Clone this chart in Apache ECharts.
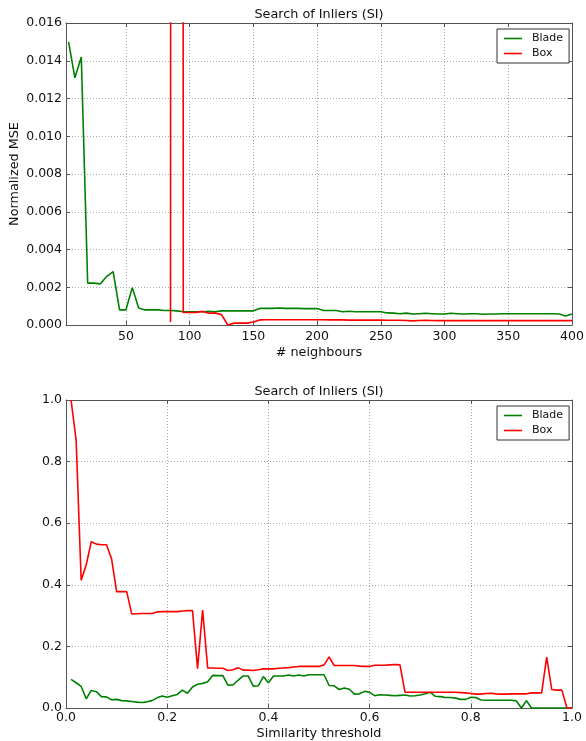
<!DOCTYPE html>
<html>
<head>
<meta charset="utf-8">
<script src="https://cdn.jsdelivr.net/npm/echarts@6/dist/echarts.min.js"></script>
<style>
html,body{margin:0;padding:0;background:#fff;}
#chart{width:586px;height:741px;}
</style>
</head>
<body>
<div id="chart"></div>
<script>
// ---------- Top chart data ----------
const neighbours = [5,10,15,20,25,30,35,40,45,50,55,60,65,70,75,80,85,90,95,100,
  105,110,115,120,125,130,135,140,145,150,155,160,165,170,175,180,185,190,195,200,
  205,210,215,220,225,230,235,240,245,250,255,260,265,270,275,280,285,290,295,300,
  305,310,315,320,325,330,335,340,345,350,355,360,365,370,375,380,385,390,395,400];
const bladeMSE = [0.0150,0.0131,0.0142,0.00222,0.00222,0.00218,0.00258,0.00283,0.00080,0.00080,
  0.00198,0.00090,0.00080,0.00080,0.00080,0.00077,0.00077,0.00075,0.00070,0.00070,
  0.00070,0.00070,0.00072,0.00070,0.00075,0.00075,0.00075,0.00075,0.00075,0.00075,
  0.00088,0.00088,0.00088,0.00090,0.00088,0.00088,0.00088,0.00087,0.00087,0.00087,
  0.00077,0.00077,0.00077,0.00070,0.00073,0.00070,0.00070,0.00070,0.00070,0.00070,
  0.00064,0.00063,0.00060,0.00063,0.00058,0.00060,0.00062,0.00060,0.00058,0.00058,
  0.00062,0.00060,0.00058,0.00060,0.00060,0.00057,0.00058,0.00058,0.00060,0.00060,
  0.00060,0.00060,0.00060,0.00060,0.00060,0.00060,0.00060,0.00058,0.00048,0.00058];
const boxMSE = [null,null,null,null,null,null,null,null,null,null,
  null,null,null,null,null,null,0.00016,1.0,0.00066,0.00066,
  0.00066,0.00072,0.00062,0.00064,0.00055,0.0,0.0001,0.0001,0.0001,0.00016,
  0.00027,0.00028,0.00028,0.00028,0.00028,0.00028,0.00028,0.00028,0.00028,0.00028,
  0.00028,0.00027,0.00027,0.00027,0.00026,0.00026,0.00026,0.00026,0.00026,0.00026,
  0.00025,0.00025,0.00025,0.00024,0.00022,0.00024,0.00025,0.00024,0.00023,0.00023,
  0.00023,0.00023,0.00023,0.00023,0.00023,0.00023,0.00023,0.00023,0.00023,0.00023,
  0.00023,0.00023,0.00023,0.00023,0.00023,0.00023,0.00023,0.00023,0.00023,0.00023];
const topXTicks = [50,100,150,200,250,300,350,400];

// ---------- Bottom chart data ----------
const thresholds = [0.01,0.02,0.03,0.04,0.05,0.06,0.07,0.08,0.09,0.10,
  0.11,0.12,0.13,0.14,0.15,0.16,0.17,0.18,0.19,0.20,
  0.21,0.22,0.23,0.24,0.25,0.26,0.27,0.28,0.29,0.30,
  0.31,0.32,0.33,0.34,0.35,0.36,0.37,0.38,0.39,0.40,
  0.41,0.42,0.43,0.44,0.45,0.46,0.47,0.48,0.49,0.50,
  0.51,0.52,0.53,0.54,0.55,0.56,0.57,0.58,0.59,0.60,
  0.61,0.62,0.63,0.64,0.65,0.66,0.67,0.68,0.69,0.70,
  0.71,0.72,0.73,0.74,0.75,0.76,0.77,0.78,0.79,0.80,
  0.81,0.82,0.83,0.84,0.85,0.86,0.87,0.88,0.89,0.90,
  0.91,0.92,0.93,0.94,0.95,0.96,0.97,0.98,0.99,1.00];
const bladeSim = [0.093,0.082,0.07,0.03,0.057,0.053,0.037,0.036,0.027,0.028,
  0.024,0.023,0.021,0.019,0.018,0.02,0.024,0.033,0.039,0.035,
  0.04,0.044,0.058,0.048,0.068,0.077,0.08,0.085,0.106,0.105,
  0.105,0.074,0.075,0.09,0.104,0.104,0.071,0.072,0.102,0.082,
  0.104,0.104,0.104,0.107,0.104,0.107,0.104,0.108,0.108,0.108,
  0.108,0.073,0.072,0.06,0.065,0.061,0.045,0.046,0.054,0.051,
  0.04,0.043,0.042,0.041,0.04,0.041,0.042,0.039,0.04,0.042,
  0.046,0.051,0.038,0.037,0.034,0.034,0.032,0.028,0.028,0.035,
  0.034,0.026,0.025,0.025,0.025,0.025,0.025,0.025,0.023,0.0,
  0.024,0.0,0.0,0.0,0.0,0.0,0.0,0.0,0.0,0.0];
const boxSim = [1.0,0.87,0.415,0.465,0.54,0.532,0.53,0.53,0.485,0.378,
  0.378,0.378,0.305,0.306,0.307,0.307,0.307,0.312,0.313,0.313,
  0.313,0.313,0.315,0.316,0.316,0.128,0.318,0.13,0.13,0.129,
  0.129,0.122,0.124,0.131,0.123,0.123,0.122,0.124,0.127,0.127,
  0.127,0.129,0.13,0.131,0.133,0.135,0.135,0.135,0.135,0.135,
  0.14,0.166,0.138,0.138,0.138,0.138,0.138,0.136,0.135,0.135,
  0.139,0.139,0.139,0.14,0.141,0.14,0.051,0.051,0.051,0.051,
  0.051,0.051,0.051,0.051,0.051,0.051,0.051,0.05,0.049,0.047,
  0.045,0.045,0.047,0.048,0.046,0.045,0.045,0.046,0.046,0.046,
  0.046,0.049,0.049,0.049,0.165,0.06,0.058,0.058,0.0,0.0];

const seriesNames = ['Blade','Box'];
const colors = ['#008000','#ff0000'];
const titleText = 'Search of Inliers (SI)';

// ---------- Styles ----------
const FONT = 'DejaVu Sans';
const axisColor = '#555';
const gridLine = {show:true, lineStyle:{color:'#aaaaaa', type:[1,2], width:1}};
const tick = {show:true, inside:true, length:4, lineStyle:{color:axisColor}};
const lbl = {color:'#111', fontFamily:FONT, fontSize:12.5};
const LW = 1.6;

const chart = echarts.init(document.getElementById('chart'));

function pairs(xs, ys){ return xs.map((x,i)=>[x, ys[i]]); }

const legendBase = {orient:'vertical', data:seriesNames, selectedMode:false, icon:'rect',
  itemWidth:18, itemHeight:1.6, itemGap:4, padding:[4,6,4,7],
  borderColor:'#333', borderWidth:1, backgroundColor:'#fff',
  textStyle:{color:'#111', fontFamily:FONT, fontSize:11, padding:[0,0,0,5]}};

const titles = [
  {type:'text', x:319, y:15, style:{text:titleText, fill:'#111', font:'12.8px "DejaVu Sans"', textAlign:'center', textVerticalAlign:'middle'}},
  {type:'text', x:319, y:392, style:{text:titleText, fill:'#111', font:'12.8px "DejaVu Sans"', textAlign:'center', textVerticalAlign:'middle'}}
];

const option = {
  animation:false,
  backgroundColor:'#fff',
  grid:[
    {left:66, top:23, width:506, height:302, containLabel:false, outerBoundsMode:'none'},
    {left:66, top:400, width:506, height:308, containLabel:false, outerBoundsMode:'none'}
  ],
  graphic:titles,
  xAxis:[
    {gridIndex:0, type:'value', min:3, max:400, scale:true,
     axisLine:{show:true, onZero:false, lineStyle:{color:axisColor}},
     axisTick:Object.assign({}, tick, {customValues:topXTicks}),
     axisLabel:Object.assign({}, lbl, {customValues:topXTicks, margin:5}),
     splitLine:gridLine,
     name:'# neighbours', nameLocation:'middle', nameGap:21,
     nameTextStyle:{color:'#111', fontFamily:FONT, fontSize:12.8}},
    {gridIndex:0, type:'value', min:3, max:400, scale:true, position:'top',
     axisLine:{show:true, onZero:false, lineStyle:{color:axisColor}},
     axisTick:Object.assign({}, tick, {customValues:topXTicks}),
     axisLabel:{show:false}, splitLine:{show:false}},
    {gridIndex:1, type:'value', min:0, max:1, interval:0.2,
     axisLine:{show:true, onZero:false, lineStyle:{color:axisColor}},
     axisTick:tick,
     axisLabel:Object.assign({}, lbl, {margin:3, formatter:v=>v.toFixed(1)}),
     splitLine:gridLine,
     name:'Similarity threshold', nameLocation:'middle', nameGap:19,
     nameTextStyle:{color:'#111', fontFamily:FONT, fontSize:12.8}},
    {gridIndex:1, type:'value', min:0, max:1, interval:0.2, position:'top',
     axisLine:{show:true, onZero:false, lineStyle:{color:axisColor}},
     axisTick:tick, axisLabel:{show:false}, splitLine:{show:false}}
  ],
  yAxis:[
    {gridIndex:0, type:'value', min:0, max:0.016, interval:0.002,
     axisLine:{show:true, onZero:false, lineStyle:{color:axisColor}},
     axisTick:tick,
     axisLabel:Object.assign({}, lbl, {margin:4, formatter:v=>v.toFixed(3)}),
     splitLine:gridLine,
     name:'Normalized MSE', nameLocation:'middle', nameGap:45, nameRotate:90, nameMoveOverlap:false,
     nameTextStyle:{color:'#111', fontFamily:FONT, fontSize:12.8}},
    {gridIndex:0, type:'value', min:0, max:0.016, interval:0.002, position:'right',
     axisLine:{show:true, onZero:false, lineStyle:{color:axisColor}},
     axisTick:tick, axisLabel:{show:false}, splitLine:{show:false}},
    {gridIndex:1, type:'value', min:0, max:1, interval:0.2,
     axisLine:{show:true, onZero:false, lineStyle:{color:axisColor}},
     axisTick:tick,
     axisLabel:Object.assign({}, lbl, {margin:4, formatter:v=>v.toFixed(1)}),
     splitLine:gridLine},
    {gridIndex:1, type:'value', min:0, max:1, interval:0.2, position:'right',
     axisLine:{show:true, onZero:false, lineStyle:{color:axisColor}},
     axisTick:tick, axisLabel:{show:false}, splitLine:{show:false}}
  ],
  legend:[
    Object.assign({left:497, top:29}, legendBase),
    Object.assign({left:497, top:406}, legendBase)
  ],
  series:[
    {name:seriesNames[0], type:'line', xAxisIndex:0, yAxisIndex:0, data:pairs(neighbours, bladeMSE),
     symbol:'none', lineStyle:{color:colors[0], width:LW}, itemStyle:{color:colors[0]}, clip:true},
    {name:seriesNames[1], type:'line', xAxisIndex:0, yAxisIndex:0, data:pairs(neighbours, boxMSE),
     symbol:'none', lineStyle:{color:colors[1], width:LW}, itemStyle:{color:colors[1]}, clip:true, connectNulls:false},
    {name:seriesNames[0], type:'line', xAxisIndex:2, yAxisIndex:2, data:pairs(thresholds, bladeSim),
     symbol:'none', lineStyle:{color:colors[0], width:LW}, itemStyle:{color:colors[0]}, clip:true},
    {name:seriesNames[1], type:'line', xAxisIndex:2, yAxisIndex:2, data:pairs(thresholds, boxSim),
     symbol:'none', lineStyle:{color:colors[1], width:LW}, itemStyle:{color:colors[1]}, clip:true}
  ]
};
chart.setOption(option);
</script>
</body>
</html>
